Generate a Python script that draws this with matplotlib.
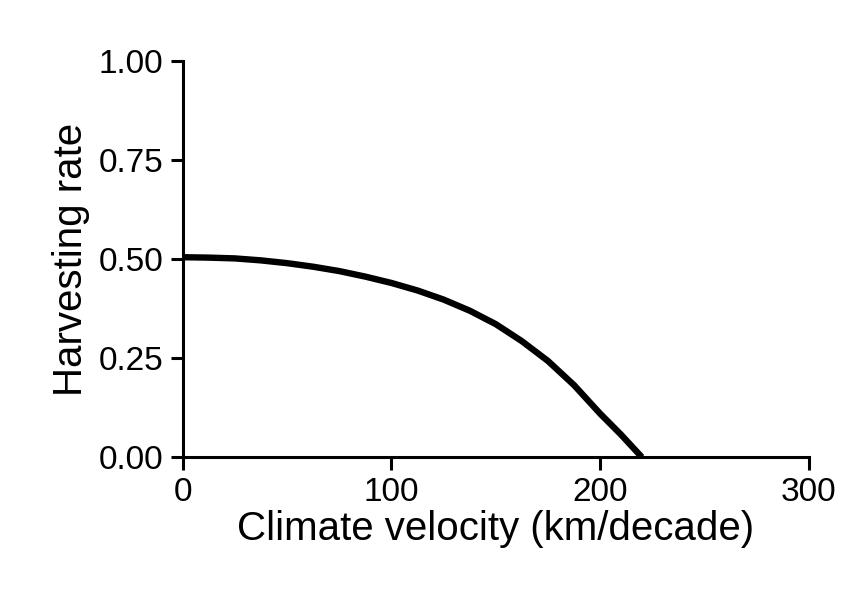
import matplotlib
matplotlib.use("Agg")
import matplotlib.pyplot as plt

# values
velocity = [0, 12.5, 25, 37.5, 50, 62.5, 75, 87.5, 100, 112.5, 125, 137.5,
            150, 162.5, 175, 187.5, 200, 210, 220]
harvest = [0.505, 0.504, 0.502, 0.497, 0.49, 0.481, 0.47, 0.456, 0.44, 0.421,
           0.398, 0.37, 0.336, 0.293, 0.243, 0.182, 0.11, 0.057, 0.0]
xticks = [0, 100, 200, 300]
yticks = [0.00, 0.25, 0.50, 0.75, 1.00]

plt.rcParams['font.family'] = ['Liberation Sans', 'DejaVu Sans']

fig = plt.figure(figsize=(8.66, 6), dpi=100)
ax = fig.add_axes([0.211, 0.238, 0.723, 0.66])
ax.plot(velocity, harvest, color='black', linewidth=4.6, solid_capstyle='butt')
ax.set_xlim(0, 300)
ax.set_ylim(0, 1)
ax.set_xticks(xticks)
ax.set_xticklabels([str(t) for t in xticks])
ax.set_yticks(yticks)
ax.set_yticklabels(['%.2f' % t for t in yticks])
for s in ['top', 'right']:
    ax.spines[s].set_visible(False)
for s in ['left', 'bottom']:
    ax.spines[s].set_linewidth(2.2)
ax.tick_params(direction='out', length=9, width=2.2, labelsize=24, pad=5)
ax.set_xlabel('Climate velocity (km/decade)', fontsize=29, labelpad=2)
ax.set_ylabel('Harvesting rate', fontsize=29, labelpad=6)
ax.margins(0)
fig.savefig('out.png', dpi=100)
